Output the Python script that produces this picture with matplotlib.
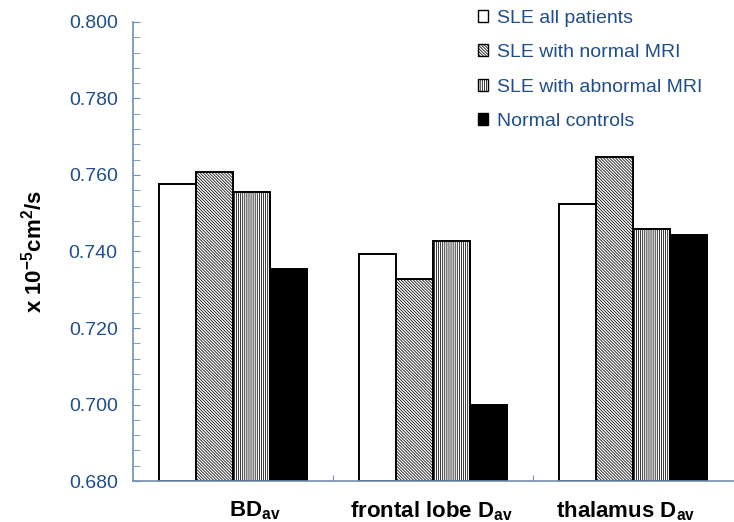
import numpy as np
import matplotlib
matplotlib.use("Agg")
import matplotlib.pyplot as plt

plt.rcParams['font.family'] = ['Liberation Sans', 'DejaVu Sans']
plt.rcParams['mathtext.fontset'] = 'custom'
plt.rcParams['mathtext.rm'] = 'Liberation Sans:bold'
plt.rcParams['mathtext.bf'] = 'Liberation Sans:bold'
plt.rcParams['mathtext.default'] = 'bf'
plt.rcParams['hatch.linewidth'] = 0.55

# data
groups = ["BD$_{av}$", "frontal lobe D$_{av}$", "thalamus D$_{av}$"]
series_names = ["SLE all patients", "SLE with normal MRI", "SLE with abnormal MRI", "Normal controls"]
sle_all = [0.7576, 0.7394, 0.7523]
sle_normal = [0.7609, 0.7329, 0.7648]
sle_abnormal = [0.7556, 0.7428, 0.7458]
controls = [0.7354, 0.7000, 0.7443]

yticks = [0.680, 0.700, 0.720, 0.740, 0.760, 0.780, 0.800]

blue = '#1F4E8C'
spine_col = '#6F8FB3'

fig = plt.figure(figsize=(7.34, 5.22), dpi=100)
ax = fig.add_axes([0.1812, 0.0785, 0.818, 0.8794])

x = np.arange(len(groups))
w = 0.185
styles = [
    dict(facecolor='white', hatch=None),
    dict(facecolor='white', hatch='\\' * 11),
    dict(facecolor='white', hatch='|' * 8),
    dict(facecolor='black', hatch=None),
]
all_series = [sle_all, sle_normal, sle_abnormal, controls]
for i, (vals, st, name) in enumerate(zip(all_series, styles, series_names)):
    ax.bar(x + (i - 1.5) * w, np.array(vals) - 0.680, bottom=0.680, width=w,
           facecolor=st['facecolor'], hatch=st['hatch'], edgecolor='black',
           linewidth=1.4, label=name)

ax.set_ylim(0.680, 0.800)
ax.set_xlim(-0.5, 2.5)
ax.set_yticks(yticks)
ax.set_yticklabels(["%.3f" % v for v in yticks], color=blue, fontsize=14)
ax.set_yticks(np.arange(0.680, 0.8001, 0.004), minor=True)
ax.tick_params(axis='y', which='both', direction='in', length=5, color=spine_col, pad=11)

ax.set_xticks([0.5, 1.5])
ax.set_xticklabels([])
ax.tick_params(axis='x', which='major', direction='in', length=4, color=spine_col)

# category labels (BD label sits a little right of its group in the original)
label_shift = [0.11, -0.01, -0.04]
for xi, g, dx in zip(x, groups, label_shift):
    ax.text(xi + dx, -0.065, g, transform=ax.get_xaxis_transform(),
            ha='center', va='center', fontsize=16, fontweight='bold')

for s in ['top', 'right']:
    ax.spines[s].set_visible(False)
for s in ['left', 'bottom']:
    ax.spines[s].set_color(spine_col)
    ax.spines[s].set_linewidth(1.2)

ax.set_ylabel("x 10$^{-5}$cm$^{2}$/s", fontsize=16, fontweight='bold', labelpad=16)

leg = ax.legend(loc='upper left', bbox_to_anchor=(0.545, 1.065), frameon=False,
                fontsize=14, handlelength=0.55, handleheight=0.55, handletextpad=0.45,
                labelspacing=0.9)
for t in leg.get_texts():
    t.set_color(blue)
for h in leg.legend_handles:
    h.set_linewidth(1.0)

fig.savefig("out.png", dpi=100)
